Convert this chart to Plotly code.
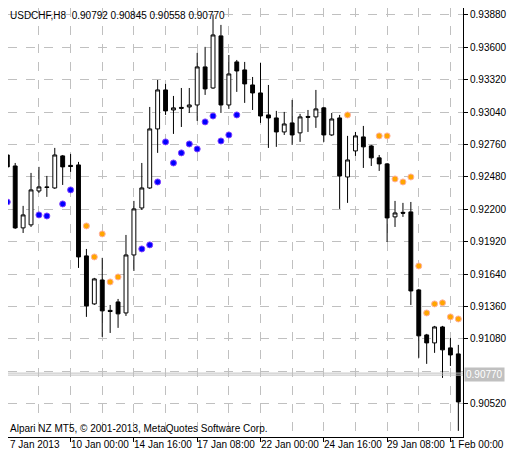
import plotly.graph_objects as go

# H8 bars, index 0..57
opens = [.92670, .92575, .92040, .92066, .92359, .92394, .92385, .92662, .92580, .92584,
         .91798, .91383, .91590, .91327, .91400, .91305, .91806, .92212, .92385, .92895,
         .93232, .93059, .93081, .93085, .93102, .93431, .93249, .93699, .93102, .93474,
         .93405, .93275, .93206, .93016, .92990, .92869, .92947, .92861, .93003, .92999,
         .93077, .92843, .92990, .92480, .92705, .92826, .92748, .92645, .92593, .92135,
         .92174, .92178, .91504, .91115, .91046, .91184, .91003, .90951]
highs = [.92714, .92601, .92230, .92515, .92567, .92489, .92731, .92670, .92679, .92610,
         .91858, .91608, .91781, .91374, .91426, .91979, .92273, .92601, .93085, .93318,
         .93284, .93180, .93249, .93249, .93552, .93604, .93880, .93794, .93534, .93491,
         .93474, .93344, .93465, .93275, .93051, .93042, .93146, .93025, .93059, .93232,
         .93085, .93033, .93016, .92835, .92869, .92921, .92757, .92670, .92601, .92273,
         .92256, .92264, .91513, .91124, .91193, .91193, .91089, .91029]
lows = [.92524, .92031, .91996, .92048, .92342, .92308, .92377, .92411, .92524, .91694,
        .91271, .91375, .91098, .91132, .91176, .91279, .91668, .92195, .92377, .92688,
        .93016, .92852, .92912, .93033, .92964, .93189, .93241, .93033, .93068, .93215,
        .93120, .93059, .92947, .92731, .92740, .92843, .92757, .92783, .92869, .92904,
        .92783, .92835, .92204, .92256, .92662, .92558, .92575, .92532, .91919, .92048,
        .92135, .91374, .90917, .90865, .90960, .90744, .90847, .90286]
closes = [.92567, .92040, .92152, .92368, .92394, .92390, .92670, .92567, .92571, .91789,
          .91366, .91599, .91323, .91318, .91297, .91806, .92204, .92385, .92895, .93232,
          .93051, .93077, .93074, .93102, .93431, .93241, .93707, .93102, .93370, .93396,
          .93284, .93206, .93007, .92990, .92869, .92938, .92843, .92999, .92996, .93068,
          .92843, .92981, .92489, .92627, .92835, .92740, .92645, .92593, .92126, .92169,
          .92167, .91495, .91107, .91046, .91184, .90986, .90942, .90536]

# indicator dots (bar index, price)
up_idx = [0, 4, 5, 7, 8, 17, 18, 19, 20, 21, 22, 23, 24, 25, 26, 27, 28, 29]
up_val = [.92264, .92152, .92143, .92247, .92368, .91858, .91893, .92437, .92783, .92601,
          .92688, .92765, .92722, .92956, .93007, .92791, .92843, .93016]
dn_idx = [10, 11, 12, 13, 14, 43, 47, 48, 49, 50, 51, 52, 53, 54, 55, 56, 57]
dn_val = [.92057, .91789, .91988, .91573, .91616, .93016, .92835, .92835, .92463, .92437,
          .92480, .91711, .91305, .91383, .91392, .91271, .91253]

date_pos = [0, 8, 16, 24, 32, 40, 48, 56]
date_labels = ["7 Jan 2013", "10 Jan 00:00", "14 Jan 16:00", "17 Jan 08:00",
               "22 Jan 00:00", "24 Jan 16:00", "29 Jan 08:00", "1 Feb 00:00"]
price_ticks = [0.93880, 0.93600, 0.93320, 0.93040, 0.92760, 0.92480, 0.92200,
               0.91920, 0.91640, 0.91360, 0.91080, 0.90520]
grid_only = [0.90800]
bid = 0.90770

FONT = "Liberation Sans"
FS = 10
X0, X1 = 0.09, 57.59
bars = list(range(len(opens)))

fig = go.Figure()
fig.add_trace(go.Candlestick(
    x=bars, open=opens, high=highs, low=lows, close=closes,
    increasing=dict(fillcolor="white", line=dict(color="black", width=1)),
    decreasing=dict(fillcolor="black", line=dict(color="black", width=1)),
    whiskerwidth=0, showlegend=False))
fig.add_trace(go.Scatter(x=up_idx, y=up_val, mode="markers",
                         marker=dict(color="#0000ff", size=6, line=dict(color="#8040ff", width=1)),
                         showlegend=False))
fig.add_trace(go.Scatter(x=dn_idx, y=dn_val, mode="markers",
                         marker=dict(color="#ffa500", size=6, line=dict(color="#ffb0a0", width=1)),
                         showlegend=False))

# bid line (thin double line like the terminal)
for p in (bid + 0.00015, bid - 0.00002):
    fig.add_shape(type="line", xref="paper", x0=0, x1=1, y0=p, y1=p,
                  line=dict(color="#c0c0c0", width=1))

fig.add_annotation(x=1, xref="paper", y=bid, yref="y", xanchor="left", xshift=1,
                   text="0.90770", showarrow=False, bgcolor="#c0c0c0",
                   font=dict(family=FONT, size=FS, color="white"), borderpad=1)
fig.add_annotation(x=0, xref="paper", y=1, yref="paper", xanchor="left", yanchor="top",
                   xshift=0, yshift=0, showarrow=False,
                   text="USDCHF,H8  0.90792 0.90845 0.90558 0.90770",
                   font=dict(family=FONT, size=FS, color="black"))
fig.add_annotation(x=0, xref="paper", y=0, yref="paper", xanchor="left", yanchor="bottom",
                   xshift=0, yshift=1, showarrow=False,
                   text="Alpari NZ MT5, © 2001-2013, MetaQuotes Software Corp.",
                   font=dict(family=FONT, size=FS, color="black"))
for pos, lab in zip(date_pos, date_labels):
    fig.add_annotation(x=max(pos, X0), xref="x", y=0, yref="paper", xanchor="left",
                       yanchor="top", xshift=-2 if pos > X0 else 0, yshift=0,
                       showarrow=False, text=lab,
                       font=dict(family=FONT, size=FS, color="black"))

fig.update_layout(
    width=508, height=449,
    margin=dict(l=0, r=53, t=0, b=20),
    paper_bgcolor="white", plot_bgcolor="white",
    font=dict(family=FONT, size=FS, color="black"),
    xaxis=dict(range=[X0, X1], rangeslider=dict(visible=False),
               tickvals=date_pos, ticktext=[""] * len(date_pos),
               ticks="outside", ticklen=4, tickcolor="black",
               showgrid=True, gridcolor="#c0c0c0", griddash="dash",
               minor=dict(tickvals=[p + 4 for p in date_pos], showgrid=True,
                          gridcolor="#c0c0c0", griddash="dash"),
               showline=True, linecolor="black", mirror=True, zeroline=False),
    yaxis=dict(range=[0.90233, 0.93940], side="right",
               tickvals=price_ticks, tickformat=".5f",
               ticks="outside", ticklen=4, tickcolor="black",
               showgrid=True, gridcolor="#c0c0c0", griddash="dash",
               minor=dict(tickvals=grid_only, showgrid=True, gridcolor="#c0c0c0",
                          griddash="dash"),
               showline=True, linecolor="black", mirror=True, zeroline=False),
)

fig.write_html("out.html")
